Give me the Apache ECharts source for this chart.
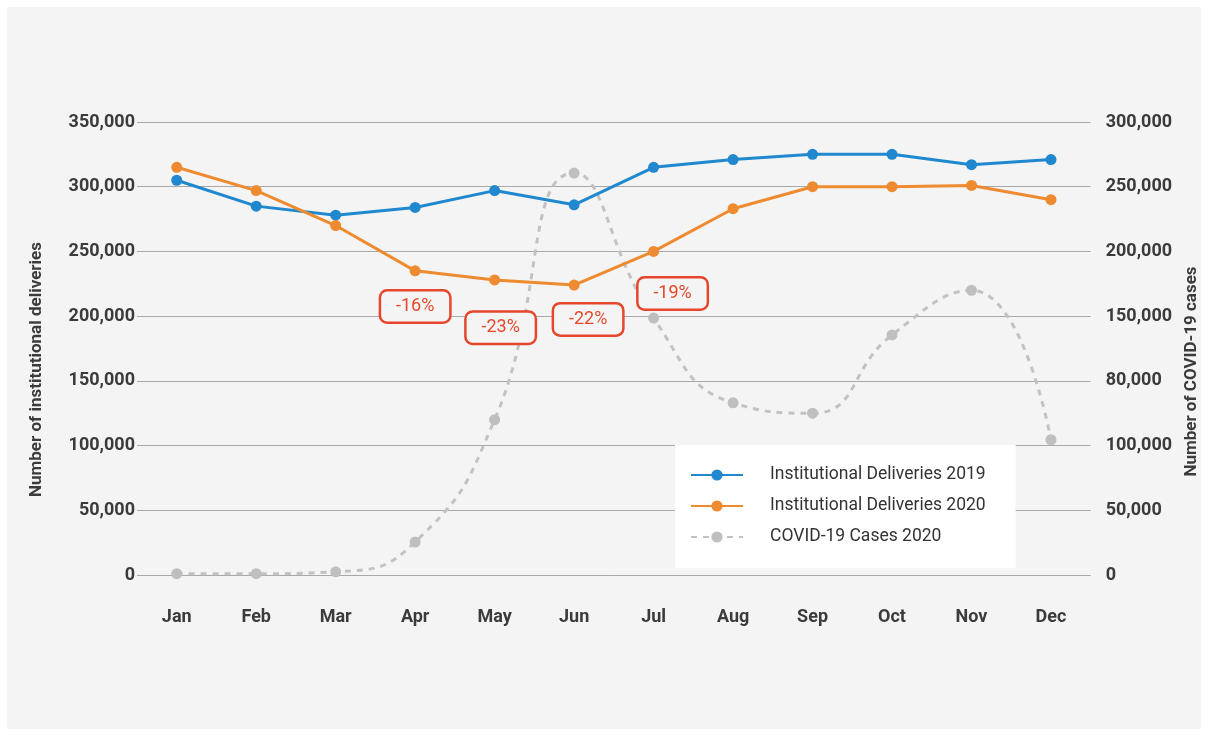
<!DOCTYPE html>
<html>
<head>
<meta charset="utf-8">
<script src="https://cdn.jsdelivr.net/npm/echarts@6/dist/echarts.min.js"></script>
<style>
  html, body { margin: 0; padding: 0; background: #fff; }
  #chart { width: 1208px; height: 736px; }
</style>
</head>
<body>
<div id="chart"></div>
<script>
// data
const months = ['Jan', 'Feb', 'Mar', 'Apr', 'May', 'Jun', 'Jul', 'Aug', 'Sep', 'Oct', 'Nov', 'Dec'];
const deliveries2019 = [305000, 285000, 278000, 284000, 297000, 286000, 315000, 321000, 325000, 325000, 317000, 321000];
const deliveries2020 = [315000, 297000, 270000, 235000, 228000, 224000, 250000, 283000, 300000, 300000, 301000, 290000];
// covid series, in units of the shared grid (right axis labels are printed as in the source)
const covid2020 = [1000, 1000, 2500, 25500, 120000, 310500, 198500, 133000, 125000, 185500, 220000, 104500];
const rightTickLabels = ['0', '50,000', '100,000', '80,000', '150,000', '200,000', '250,000', '300,000'];
const dropLabels = [
  { month: 'Apr', value: 207500, text: '-16%', offset: [0, 0] },
  { month: 'May', value: 191000, text: '-23%', offset: [6, 0] },
  { month: 'Jun', value: 197500, text: '-22%', offset: [14, 0] },
  { month: 'Jul', value: 217500, text: '-19%', offset: [19, 0] }
];

const axisFont = { color: '#3b3b3b', fontFamily: 'Roboto', fontWeight: 'bold', fontSize: 18 };
const red = '#e6472a';

const chart = echarts.init(document.getElementById('chart'));

const option = {
  animation: false,
  backgroundColor: '#ffffff',
  graphic: [{
    type: 'rect',
    left: 7, top: 7, z: -10,
    shape: { width: 1194, height: 722 },
    style: { fill: '#f4f4f4' }
  }],
  grid: { left: 137, right: 116, top: 122, bottom: 161 },
  legend: {
    orient: 'vertical',
    left: 675, top: 445,
    backgroundColor: '#ffffff',
    padding: [21, 30, 22, 15],
    itemWidth: 52, itemHeight: 14, itemGap: 13,
    textStyle: { color: '#333', fontFamily: 'Roboto', fontSize: 17.5, padding: [0, 0, 0, 22] },
    data: ['Institutional Deliveries 2019', 'Institutional Deliveries 2020', 'COVID-19 Cases 2020']
  },
  xAxis: {
    type: 'category',
    data: months,
    boundaryGap: true,
    axisLine: { show: false },
    axisTick: { show: false },
    axisLabel: Object.assign({ margin: 33 }, axisFont)
  },
  yAxis: [{
    type: 'value',
    min: 0, max: 350000, interval: 50000,
    name: 'Number of institutional deliveries',
    nameLocation: 'middle',
    nameRotate: 90,
    nameGap: 92,
    nameTextStyle: Object.assign({ padding: [0, 42, 0, 0] }, axisFont, { fontSize: 17 }),
    axisLine: { show: false },
    axisTick: { show: false },
    axisLabel: Object.assign({
      margin: 2,
      formatter: v => v.toLocaleString('en-US')
    }, axisFont),
    splitLine: { lineStyle: { color: '#a8a8a8', width: 1 } }
  }, {
    type: 'value',
    position: 'right',
    min: 0, max: 350000, interval: 50000,
    name: 'Number of COVID-19 cases',
    nameLocation: 'middle',
    nameRotate: 90,
    nameGap: 88,
    nameTextStyle: Object.assign({ padding: [0, 46, 0, 0] }, axisFont, { fontSize: 17 }),
    axisLine: { show: false },
    axisTick: { show: false },
    axisLabel: Object.assign({
      margin: 15,
      formatter: v => rightTickLabels[Math.round(v / 50000)] || ''
    }, axisFont),
    splitLine: { show: false }
  }],
  series: [{
    name: 'COVID-19 Cases 2020',
    type: 'line',
    yAxisIndex: 1,
    data: covid2020,
    smooth: 0.5,
    symbol: 'circle',
    symbolSize: 11,
    lineStyle: { color: '#c2c2c2', width: 3, type: [6, 6] },
    itemStyle: { color: '#bfbfbf' },
    z: 2
  }, {
    name: 'Institutional Deliveries 2019',
    type: 'line',
    data: deliveries2019,
    symbol: 'circle',
    symbolSize: 11,
    lineStyle: { color: '#1f88cf', width: 3 },
    itemStyle: { color: '#1f88cf' },
    z: 3
  }, {
    name: 'Institutional Deliveries 2020',
    type: 'line',
    data: deliveries2020,
    symbol: 'circle',
    symbolSize: 11,
    lineStyle: { color: '#ee8a2f', width: 3 },
    itemStyle: { color: '#ee8a2f' },
    z: 4,
    markPoint: {
      symbol: 'circle',
      symbolSize: 0,
      silent: true,
      label: {
        show: true,
        position: 'inside',
        color: red,
        fontFamily: 'Roboto',
        fontSize: 18,
        backgroundColor: '#f4f4f4',
        borderColor: red,
        borderWidth: 2.5,
        borderRadius: 6,
        width: 68,
        height: 30,
        lineHeight: 30,
        align: 'center',
        verticalAlign: 'middle'
      },
      data: dropLabels.map(d => ({
        coord: [d.month, d.value],
        value: d.text,
        label: { formatter: d.text, offset: d.offset }
      }))
    }
  }]
};

chart.setOption(option);
</script>
</body>
</html>
